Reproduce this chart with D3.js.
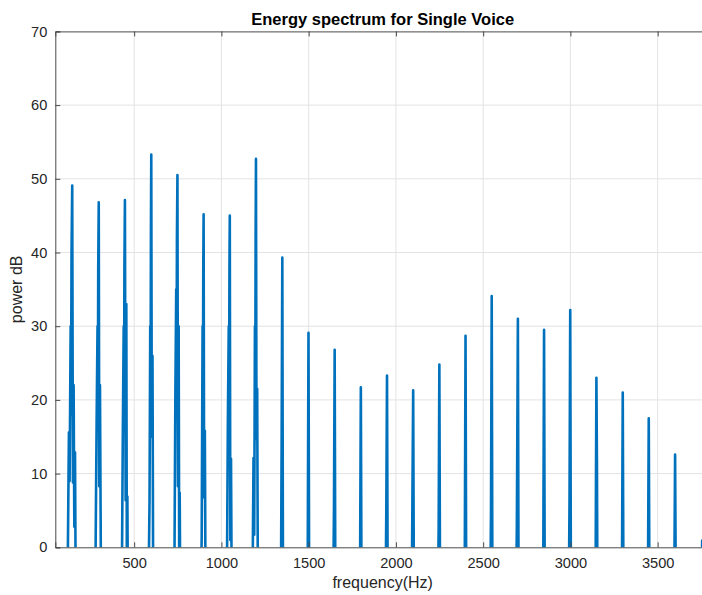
<!DOCTYPE html>
<html>
<head>
<meta charset="utf-8">
<script src="https://cdn.jsdelivr.net/npm/d3@7"></script>
<style>
  html, body { margin: 0; padding: 0; background: #fff; }
  svg { display: block; font-family: "Liberation Sans", Arial, Helvetica, sans-serif; }
</style>
</head>
<body>
<svg id="chart" width="702" height="595"></svg>
<script>
// Harmonic series of a single voice: centre frequency (Hz) and peak power (dB)
const harmonicHz = [145, 297, 447, 598, 748, 898, 1048, 1198, 1349, 1499, 1649, 1799,
                    1949, 2099, 2249, 2399, 2549, 2699, 2849, 2999, 3149, 3300, 3449, 3600, 3775];
const peakDb = [49.1, 46.8, 47.1, 53.3, 50.5, 45.2, 45.0, 52.7, 39.3, 29.1, 26.8, 21.7,
                23.3, 21.3, 24.8, 28.7, 34.1, 31.0, 29.5, 32.2, 23.0, 21.0, 17.5, 12.6, 12.0];

// Side-lobe samples around each harmonic: [offset from centre in Hz, power dB]
const lobesBefore = [
  [[-27, -6], [-19, 15.6], [-15, 9], [-9, 30], [-7, 18], [-4, 40]],
  [[-20, -6], [-12, 17.5], [-7, 30], [-5, 20], [-3, 38]],
  [[-18, -6], [-12, 15.7], [-7, 30], [-5, 19], [-3, 38]],
  [[-16, -6], [-10, 6.2], [-6, 30], [-4, 22], [-2, 43]],
  [[-18, -6], [-12, 20.6], [-7, 35], [-5, 24], [-3, 42]],
  [[-16, -6], [-11, 1.4], [-6, 30], [-4, 20], [-2, 38]],
  [[-17, -6], [-11, 17.3], [-6, 30], [-4, 21], [-2, 38]],
  [[-20, -6], [-14, 12.1], [-10, 1.7], [-6, 30], [-4, 21], [-2, 42]],
  [[-8, -6], [-4, 14.1]],
  [[-5, -6]],
  [[-8, -6], [-4, 5.4]],
  [[-5, -6]],
  [[-8, -6], [-4, 5.3]],
  [[-8, -6], [-4, 8.0]],
  [[-8, -6], [-4, 2.8]],
  [[-5, -6]],
  [[-8, -6], [-4, 5.1]],
  [[-10, -6], [-6, 2.8], [-3, 16.4]],
  [[-5, -6]],
  [[-8, -6], [-4, 6.6]],
  [[-5, -6]],
  [[-5, -6]],
  [[-5, -6]],
  [[-5, -6]],
  [[-23, -6], [-20, 0.9], [-17, -6], [-7, -6]]
];
const lobesAfter = [
  [[4, 8.8], [8, 22], [12, 2.8], [16, 12.9], [20, -6]],
  [[3, 8.3], [7, 22], [13, -6]],
  [[4, 6.4], [8, 33], [11, -2], [14, 6.9], [17, -6]],
  [[3, 15], [7, 26], [11, -6]],
  [[3, 8.3], [7, 30], [10, -2], [13, 7.4], [16, -6]],
  [[3, 6.8], [7, 15.8], [11, -6]],
  [[3, 1.0], [7, 12], [11, -6]],
  [[3, 14.7], [7, 21.5], [11, -6]],
  [[4, -6]],
  [[4, -6]],
  [[4, -6]],
  [[4, -6]],
  [[4, -6]],
  [[4, -6]],
  [[4, -6]],
  [[4, -6]],
  [[4, -6]],
  [[4, -6]],
  [[4, -6]],
  [[4, -6]],
  [[3, 11.8], [6, -6]],
  [[4, -6]],
  [[4, -6]],
  [[4, -6]],
  [[4, -6]]
];

const xTicks = [500, 1000, 1500, 2000, 2500, 3000, 3500];
const yTicks = [0, 10, 20, 30, 40, 50, 60, 70];
const xDomain = [48, 3800];
const yDomain = [0, 70];

const titleText = "Energy spectrum for Single Voice";
const xLabel = "frequency(Hz)";
const yLabel = "power dB";

// Build the spectrum polyline from the harmonic table
const spectrum = [];
harmonicHz.forEach((c, i) => {
  lobesBefore[i].forEach(([o, v]) => spectrum.push([c + o, v]));
  spectrum.push([c, peakDb[i]]);
  lobesAfter[i].forEach(([o, v]) => spectrum.push([c + o, v]));
});

const svg = d3.select("#chart");
const plot = { left: 55.3, top: 31.4, right: 710, bottom: 547.3 };

const x = d3.scaleLinear().domain(xDomain).range([plot.left, plot.right]);
const y = d3.scaleLinear().domain(yDomain).range([plot.bottom, plot.top]);

const axisColor = "#4a4a4a";
const textColor = "#262626";
const gridColor = "#e3e3e3";

// Grid lines
const grid = svg.append("g");
grid.selectAll("line.gx").data(xTicks).join("line")
  .attr("x1", d => x(d)).attr("x2", d => x(d))
  .attr("y1", plot.top).attr("y2", plot.bottom)
  .attr("stroke", gridColor).attr("stroke-width", 1);
grid.selectAll("line.gy").data(yTicks.filter(d => d > 0 && d < 70)).join("line")
  .attr("x1", plot.left).attr("x2", plot.right)
  .attr("y1", d => y(d)).attr("y2", d => y(d))
  .attr("stroke", gridColor).attr("stroke-width", 1);

// Clip region for the data
svg.append("clipPath").attr("id", "plotClip")
  .append("rect")
  .attr("x", plot.left).attr("y", plot.top)
  .attr("width", plot.right - plot.left).attr("height", plot.bottom - plot.top);

const line = d3.line().x(d => x(d[0])).y(d => y(d[1]));
svg.append("path")
  .datum(spectrum)
  .attr("clip-path", "url(#plotClip)")
  .attr("d", line)
  .attr("fill", "none")
  .attr("stroke", "#0072BD")
  .attr("stroke-width", 2.6)
  .attr("stroke-linejoin", "round");

// Axes: bottom / left with ticks pointing inward, plus top / right box edges
const tickLen = 5;
const fmt = d3.format("d");
const xAxis = d3.axisBottom(x).tickValues(xTicks).tickFormat(fmt).tickSize(-tickLen).tickPadding(10);
const gx = svg.append("g").attr("transform", `translate(0,${plot.bottom})`).call(xAxis);
const yAxis = d3.axisLeft(y).tickValues(yTicks).tickFormat(fmt).tickSize(-tickLen).tickPadding(8);
const gy = svg.append("g").attr("transform", `translate(${plot.left},0)`).call(yAxis);
const xTop = d3.axisTop(x).tickValues(xTicks).tickSize(-tickLen).tickFormat("");
const gxt = svg.append("g").attr("transform", `translate(0,${plot.top})`).call(xTop);
const yRight = d3.axisRight(y).tickValues(yTicks).tickSize(-tickLen).tickFormat("");
const gyr = svg.append("g").attr("transform", `translate(${plot.right},0)`).call(yRight);

[gx, gy, gxt, gyr].forEach(g => {
  g.select(".domain").attr("stroke", axisColor).attr("stroke-width", 1);
  g.selectAll(".tick line").attr("stroke", axisColor).attr("stroke-width", 1);
  g.selectAll(".tick text")
    .attr("fill", textColor)
    .style("font-size", "14.6px")
    .style("font-family", "'Liberation Sans', Arial, Helvetica, sans-serif");
});
gx.selectAll(".tick text").attr("dy", "0.71em");

// Title and axis labels
svg.append("text")
  .attr("x", (plot.left + plot.right) / 2).attr("y", 25)
  .attr("text-anchor", "middle")
  .attr("fill", "#000")
  .style("font-size", "16.5px").style("font-weight", "bold")
  .text(titleText);

svg.append("text")
  .attr("x", (plot.left + plot.right) / 2).attr("y", 588)
  .attr("text-anchor", "middle")
  .attr("fill", textColor)
  .style("font-size", "16px")
  .text(xLabel);

svg.append("text")
  .attr("transform", `translate(22,${(plot.top + plot.bottom) / 2}) rotate(-90)`)
  .attr("text-anchor", "middle")
  .attr("fill", textColor)
  .style("font-size", "16px")
  .text(yLabel);
</script>
</body>
</html>
